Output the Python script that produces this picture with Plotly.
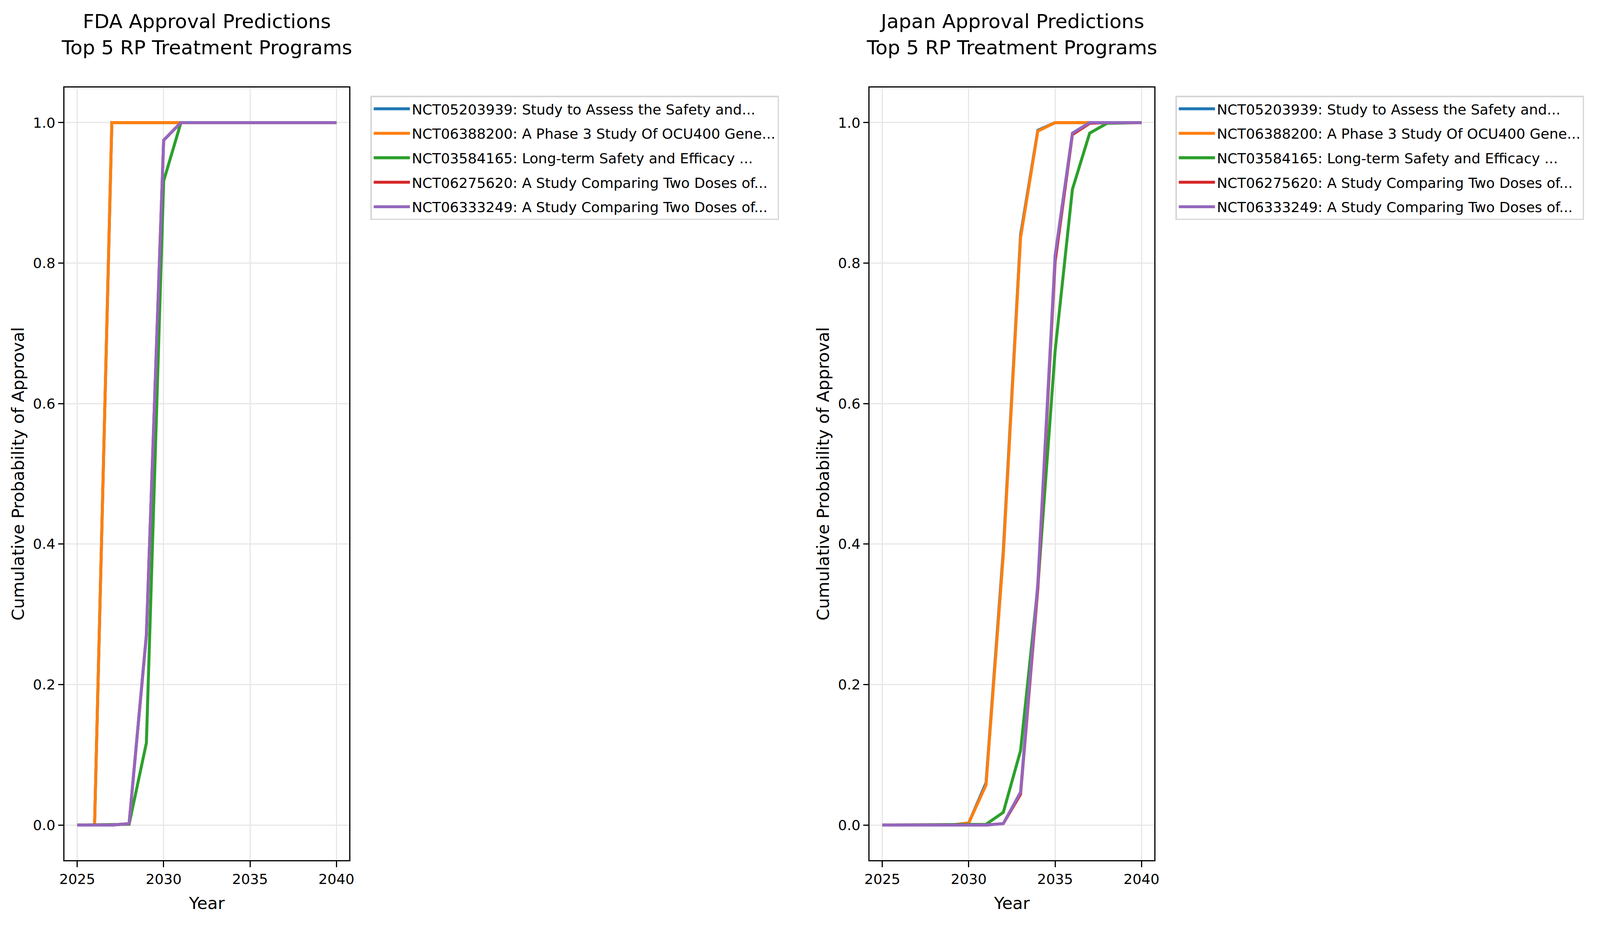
import plotly.graph_objects as go

years = list(range(2025, 2041))

trial_labels = [
    "NCT05203939: Study to Assess the Safety and...",
    "NCT06388200: A Phase 3 Study Of OCU400 Gene...",
    "NCT03584165: Long-term Safety and Efficacy ...",
    "NCT06275620: A Study Comparing Two Doses of...",
    "NCT06333249: A Study Comparing Two Doses of...",
]
colors = ["#1f77b4", "#ff7f0e", "#2ca02c", "#d62728", "#9467bd"]

# FDA cumulative probabilities (2025..2040)
fda_nct05203939 = [0, 0.0, 1, 1, 1, 1, 1, 1, 1, 1, 1, 1, 1, 1, 1, 1]
fda_nct06388200 = [0, 0.0, 1, 1, 1, 1, 1, 1, 1, 1, 1, 1, 1, 1, 1, 1]
fda_nct03584165 = [0, 0, 0, 0.001, 0.117, 0.917, 1, 1, 1, 1, 1, 1, 1, 1, 1, 1]
fda_nct06275620 = [0, 0, 0, 0.002, 0.270, 0.975, 1, 1, 1, 1, 1, 1, 1, 1, 1, 1]
fda_nct06333249 = [0, 0, 0, 0.002, 0.271, 0.975, 1, 1, 1, 1, 1, 1, 1, 1, 1, 1]

# Japan cumulative probabilities (2025..2040)
jp_nct05203939 = [0, 0, 0, 0, 0, 0.003, 0.060, 0.390, 0.840, 0.989, 1, 1, 1, 1, 1, 1]
jp_nct06388200 = [0, 0, 0, 0, 0, 0.003, 0.057, 0.384, 0.836, 0.988, 1, 1, 1, 1, 1, 1]
jp_nct03584165 = [0, 0, 0, 0, 0, 0, 0.001, 0.018, 0.106, 0.340, 0.675, 0.905, 0.985, 0.999, 1, 1]
jp_nct06275620 = [0, 0, 0, 0, 0, 0, 0, 0.002, 0.044, 0.337, 0.802, 0.983, 0.999, 1, 1, 1]
jp_nct06333249 = [0, 0, 0, 0, 0, 0, 0, 0.002, 0.047, 0.345, 0.811, 0.985, 1, 1, 1, 1]

fda_series = [fda_nct05203939, fda_nct06388200, fda_nct03584165, fda_nct06275620, fda_nct06333249]
jp_series = [jp_nct05203939, jp_nct06388200, jp_nct03584165, jp_nct06275620, jp_nct06333249]

x_ticks = [2025, 2030, 2035, 2040]
y_ticks = [0.0, 0.2, 0.4, 0.6, 0.8, 1.0]
y_tick_text = ["0.0", "0.2", "0.4", "0.6", "0.8", "1.0"]

# reference geometry is 4726 x 2368 px; the page viewport is 4096 x 2368 CSS px
RW, RH = 4726, 2368
SX = 4096 / RW
W, H = 4096, RH
FONT = "DejaVu Sans"

def fx(v):
    return v * SX

LW = 7.6
SPINE = 3.0
TICK_F = fx(41.7)
LABEL_F = fx(50)
TITLE_F = fx(58.3)

fig = go.Figure()
for i in range(5):
    fig.add_trace(go.Scatter(x=years, y=fda_series[i], mode="lines", name=trial_labels[i],
                             line=dict(color=colors[i], width=LW), xaxis="x", yaxis="y",
                             legend="legend", legendgroup="a%d" % i))
for i in range(5):
    fig.add_trace(go.Scatter(x=years, y=jp_series[i], mode="lines", name=trial_labels[i],
                             line=dict(color=colors[i], width=LW), xaxis="x2", yaxis="y2",
                             legend="legend2", legendgroup="b%d" % i))

ax_l = (190 / RW, 1032 / RW)
ax_r = (2568 / RW, 3410 / RW)
ydom = (1 - 2202 / RH, 1 - 224 / RH)

def xaxis(dom, anchor):
    return dict(domain=list(dom), anchor=anchor, range=[2024.25, 2040.75], tickvals=x_ticks,
                automargin=False,
                showgrid=True, gridcolor="#e7e7e7", gridwidth=3.0, zeroline=False,
                showline=True, linecolor="black", linewidth=SPINE, mirror=True,
                ticks="outside", ticklen=14.6, tickwidth=SPINE, tickcolor="black",
                tickfont=dict(family=FONT, size=TICK_F, color="black"),
                title=dict(text="Year", font=dict(family=FONT, size=LABEL_F, color="black"),
                           standoff=26))

def yaxis(anchor):
    return dict(domain=list(ydom), anchor=anchor, range=[-0.05, 1.05], tickvals=y_ticks,
                ticktext=y_tick_text, automargin=False,
                showgrid=True, gridcolor="#e7e7e7", gridwidth=3.0, zeroline=False,
                showline=True, linecolor="black", linewidth=SPINE, mirror=True,
                ticks="outside", ticklen=fx(14.6), tickwidth=SPINE, tickcolor="black",
                tickfont=dict(family=FONT, size=TICK_F, color="black"),
                title=dict(text="Cumulative Probability of Approval",
                           font=dict(family=FONT, size=LABEL_F, color="black"), standoff=10))

def legend(xpos):
    return dict(x=xpos, y=1 - 245 / RH, xanchor="left", yanchor="top",
                bgcolor="white", bordercolor="#d6d6d6", borderwidth=3.5,
                font=dict(family=FONT, size=TICK_F, color="black"),
                traceorder="grouped", tracegroupgap=12.7, itemwidth=fx(100) + 6)

def title_line(text, xc, ycenter_ref):
    return dict(text=text, x=xc, y=1 - ycenter_ref / RH, xref="paper", yref="paper",
                xanchor="center", yanchor="middle", showarrow=False,
                font=dict(family=FONT, size=TITLE_F, color="black"))

xl = sum(ax_l) / 2
xr = sum(ax_r) / 2
fig.update_layout(
    width=W, height=H, margin=dict(l=0, r=0, t=0, b=0, autoexpand=False),
    paper_bgcolor="white", plot_bgcolor="white",
    xaxis=xaxis(ax_l, "y"), yaxis=yaxis("x"),
    xaxis2=xaxis(ax_r, "y2"), yaxis2=yaxis("x2"),
    legend=legend(1094 / RW), legend2=legend(3472 / RW),
    showlegend=True,
    annotations=[
        title_line("FDA Approval Predictions", xl, 54),
        title_line("Top 5 RP Treatment Programs", xl, 121),
        title_line("Japan Approval Predictions", xr, 54),
        title_line("Top 5 RP Treatment Programs", xr, 121),
    ],
)

fig.write_html("out.html", config={"displayModeBar": False},
               post_script="document.body.style.margin='0';")
